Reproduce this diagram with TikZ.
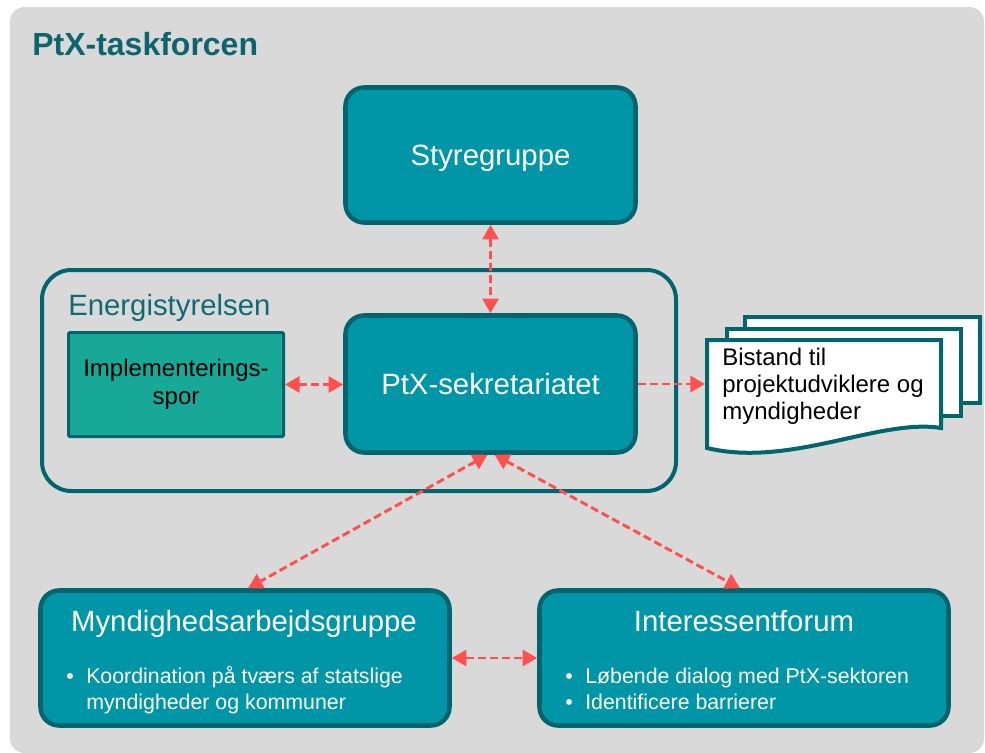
\documentclass[tikz,border=0pt]{standalone}
\usepackage{fontspec}
\setmainfont{Liberation Sans}
\usetikzlibrary{arrows.meta,calc}
\definecolor{bgcol}{HTML}{D9D9D9}
\definecolor{boxfill}{HTML}{0096A7}
\definecolor{boxline}{HTML}{00656D}
\definecolor{implfill}{HTML}{18A898}
\definecolor{titlecol}{HTML}{0E646C}
\definecolor{enscol}{HTML}{0F6B73}
\definecolor{arrowred}{HTML}{FF5050}
\tikzset{
  mainbox/.style={draw=boxline, fill=boxfill, line width=3.4pt, rounded corners=14pt,
    text=white, inner sep=0pt},
  bigtext/.style={font=\fontsize{22}{26}\selectfont, text height=15.75pt, text depth=0pt},
  whitetext/.style={text=white, inner sep=0pt},
  titletext/.style={whitetext, anchor=base, font=\fontsize{22}{26}\selectfont},
  bullettext/.style={whitetext, anchor=base west, font=\fontsize{16}{19.5}\selectfont},
  bulletdot/.style={whitetext, anchor=base, font=\fontsize{16}{19.5}\selectfont},
  doctext/.style={text=black, inner sep=0pt, anchor=base west, font=\fontsize{18}{21}\selectfont},
  docstyle/.style={draw=boxline, fill=white, line width=3pt},
  link/.style={arrowred, line width=2.2pt, dash pattern=on 6pt off 3pt},
  twoway/.style={link, {Triangle[length=11pt,width=12pt]}-{Triangle[length=11pt,width=12pt]}},
  oneway/.style={link, -{Triangle[length=11pt,width=12pt]}}
}
\begin{document}
\begin{tikzpicture}[x=0.75pt,y=-0.75pt]
\useasboundingbox (0,0) rectangle (985,753);
\fill[bgcol, rounded corners=11pt] (10,7) rectangle (984,753);

\node[anchor=base west, inner sep=0pt, text=titlecol, font=\fontsize{24}{28}\selectfont\bfseries]
  (title) at (32,55) {PtX-taskforcen};

% Energistyrelsen frame
\node[draw=boxline, line width=3pt, rounded corners=22pt, minimum width=475.5pt,
  minimum height=165.75pt, inner sep=0pt] (ens) at (359,380.5) {};
\node[anchor=base west, inner sep=0pt, text=enscol, font=\fontsize{22}{26}\selectfont]
  (enslabel) at (68,315) {Energistyrelsen};

% main boxes
\node[mainbox, bigtext, minimum width=217.5pt, minimum height=101.25pt] (sty) at (490.5,155) {Styregruppe};
\node[mainbox, bigtext, minimum width=217.5pt, minimum height=102.75pt] (ptx) at (490.5,384) {PtX-sekretariatet};

\node[draw=boxline, fill=implfill, line width=2.25pt, rounded corners=1pt, minimum width=161.25pt,
  minimum height=78pt, inner sep=0pt, align=center, font=\fontsize{18}{21}\selectfont]
  (impl) at (176,384.5) {Implementerings-\\spor};

\node[mainbox, minimum width=306.75pt, minimum height=101.25pt] (myn) at (245,658) {};
\node[titletext] (myntitle) at (244,631) {Myndighedsarbejdsgruppe};
\node[bulletdot] (mynb1) at (70,683) {•};
\node[bullettext] (mynl1) at (86,683) {Koordination på tværs af statslige};
\node[bullettext] (mynl2) at (86,709) {myndigheder og kommuner};

\node[mainbox, minimum width=306.75pt, minimum height=101.25pt] (int) at (744,658) {};
\node[titletext] (inttitle) at (744,631) {Interessentforum};
\node[bulletdot] (intb1) at (569,683) {•};
\node[bulletdot] (intb2) at (569,709) {•};
\node[bullettext] (intl1) at (585,683) {Løbende dialog med PtX-sektoren};
\node[bullettext] (intl2) at (585,709) {Identificere barrierer};

% document stack
\draw[docstyle] (745,317) rectangle (980,403);
\draw[docstyle] (727,329) rectangle (961,416);
\draw[docstyle] (707,340) -- (941,340) -- (941,428)
  .. controls (880,418) and (790,468) .. (707,448) -- cycle;
\coordinate (docin) at (705,384);
\node[doctext] (doc1) at (722,365) {Bistand til};
\node[doctext] (doc2) at (722,392) {projektudviklere og};
\node[doctext] (doc3) at (722,419) {myndigheder};

% connectors
\draw[twoway] (sty.south) -- (ptx.north);
\draw[twoway] (impl.east) -- (impl.east -| ptx.west);
\draw[oneway] (ptx.east) -- (docin);
\draw[twoway] ($(ptx.south)+(-3,0)$) -- ($(myn.north)+(3,0)$);
\draw[twoway] ($(ptx.south)+(4,0)$) -- ($(int.north)+(-4,0)$);
\draw[twoway] (myn.east) -- (int.west);
\end{tikzpicture}
\end{document}
